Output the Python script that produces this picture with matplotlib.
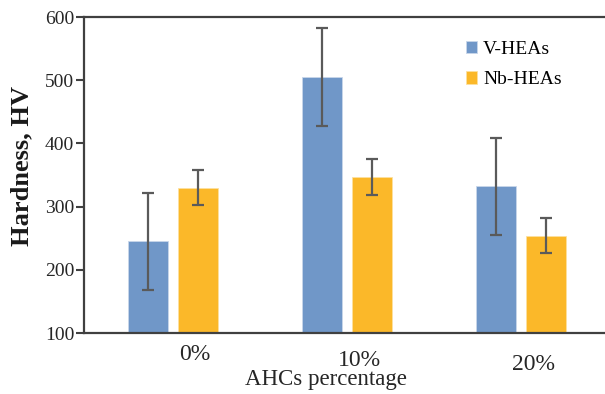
import matplotlib.pyplot as plt
import numpy as np

# data
categories = ["0%", "10%", "20%"]
v_heas = [245, 505, 332]
v_err = [77, 77, 77]
nb_heas = [330, 347, 254]
nb_err = [28, 28, 28]

plt.rcParams['font.family'] = ['Liberation Serif', 'DejaVu Serif']

fig = plt.figure(figsize=(6.05, 3.94), dpi=100)
ax = fig.add_axes([84 / 605, 1 - 333 / 394, 524 / 605, 316 / 394])

x = np.arange(len(categories))
w = 0.23
off = 0.142
ekw = dict(ecolor='#5a5a5a', elinewidth=1.6, capsize=4.5, capthick=1.6)
ax.bar(x - off, v_heas, w, yerr=v_err, color='#7097c8', edgecolor='#c8d6ea',
       linewidth=0.6, label='V-HEAs', error_kw=ekw)
ax.bar(x + off, nb_heas, w, yerr=nb_err, color='#fbb829', edgecolor='#fde0a0',
       linewidth=0.6, label='Nb-HEAs', error_kw=ekw)

ax.set_ylim(100, 600)
ax.set_xlim(-0.511, 2.5)
ax.set_yticks([100, 200, 300, 400, 500, 600])
ax.tick_params(axis='y', direction='out', length=6, width=1.5, color='#404040',
               labelsize=14, pad=1, labelcolor='#262626')
ax.set_xticks([])

for s in ['left', 'bottom', 'top']:
    ax.spines[s].set_linewidth(1.6)
    ax.spines[s].set_color('#404040')
ax.spines['right'].set_visible(False)

# category labels, drifting down to the right as in the reference
dx = [22, 13, 13]
dy = [-21, -27, -32]
for i, lab in enumerate(categories):
    ax.annotate(lab, xy=(x[i], 0), xycoords=('data', 'axes fraction'),
                xytext=(dx[i] * 0.72, dy[i] * 0.72), textcoords='offset points',
                ha='center', va='center', fontsize=17, color='#262626')

fig.text(326 / 605, 1 - 380 / 394, 'AHCs percentage', ha='center', va='center',
         fontsize=16.5, color='#262626')
fig.text(22 / 605, 1 - 166 / 394, 'Hardness, HV', rotation=90, ha='center',
         va='center', fontsize=19, fontweight='bold', color='#1a1a1a')

ax.legend(loc='upper left', bbox_to_anchor=(0.695, 0.98), frameon=False,
          fontsize=14, handlelength=0.6, handleheight=0.6, handletextpad=0.3,
          labelspacing=0.7)

fig.savefig('out.png', dpi=100)
